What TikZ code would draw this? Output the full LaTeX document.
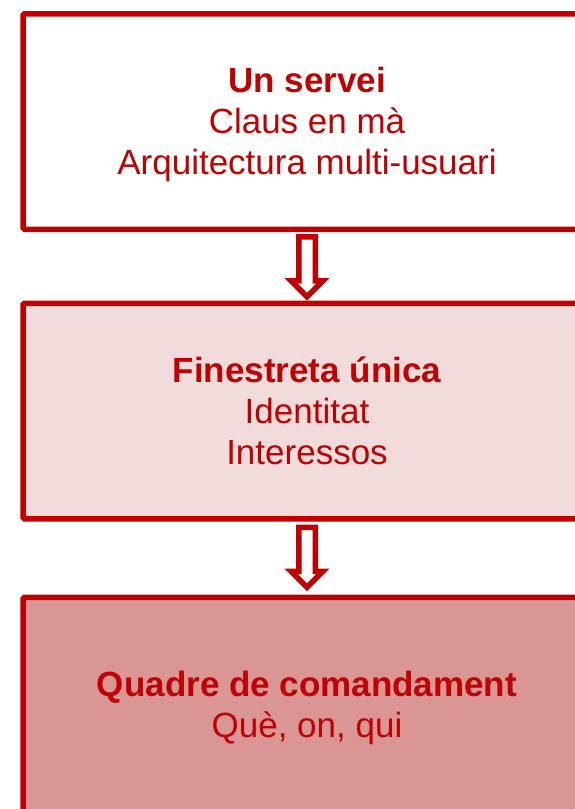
\documentclass[tikz,border=0pt]{standalone}
\usepackage{fontspec}
\setmainfont{Liberation Sans}
\definecolor{darkred}{HTML}{C00000}
\definecolor{palepink}{HTML}{F2DCDB}
\definecolor{rosepink}{HTML}{D99694}

% hollow block arrow pointing down, #1 = node anchor, #2 = gap below it
\newcommand\hollowdown[2]{%
  \draw[down arrow] (#1) ++(-8.25,#2) -- ++(0,44) -- ++(-7.75,0) -- ++(16,16)
    -- ++(16,-16) -- ++(-7.75,0) -- ++(0,-44) -- cycle;}
% strut for a title line
\newcommand\titlestrut{\rule{0pt}{32pt}}

\begin{document}
\begin{tikzpicture}[x=1pt,y=-1pt,
  line width=5.5pt,main node/.style={rectangle,draw=darkred,rounded corners=1.5pt,
    minimum width=568pt,minimum height=215.5pt,inner sep=0pt,align=center,
    text=darkred,font=\fontsize{35}{41}\selectfont},
  down arrow/.style={draw=darkred,fill=white,miter limit=10}]

  \useasboundingbox (0,0) rectangle (574,809);

  \node[main node] (1) at (307,121.5) {\titlestrut\textbf{Un servei}\\Claus en mà\\Arquitectura multi-usuari};
  \node[main node,fill=palepink] (2) at (307,411) {\textbf{Finestreta única}\\Identitat\\Interessos};
  \node[main node,fill=rosepink] (3) at (307,705) {\titlestrut\textbf{Quadre de comandament}\\Què, on, qui};

  \hollowdown{1.south}{4.75}
  \hollowdown{2.south}{5.75}
\end{tikzpicture}
\end{document}
